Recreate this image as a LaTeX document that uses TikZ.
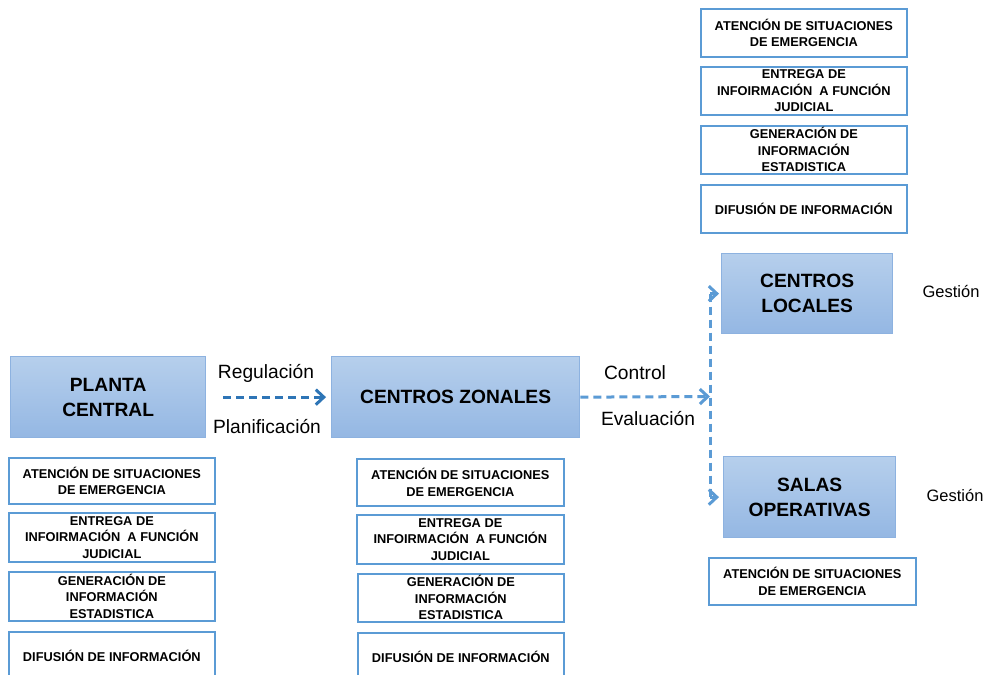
\documentclass[tikz,border=0pt]{standalone}
\usepackage{fontspec}
\setmainfont{Liberation Sans}
\usetikzlibrary{arrows.meta}
\definecolor{bordblue}{HTML}{5B9BD5}
\definecolor{filltop}{HTML}{B6CFEC}
\definecolor{fillbot}{HTML}{94B7E3}
\definecolor{bigbord}{HTML}{8DB2E0}
\definecolor{darkarrow}{HTML}{2E75B6}
\definecolor{lightarrow}{HTML}{5B9BD5}
\tikzset{
  smallbox/.style={draw=bordblue, line width=1.7pt, fill=white, align=center, inner sep=0pt,
    font=\bfseries\fontsize{12.8}{16.5}\selectfont, anchor=north west},
  bigbox/.style={draw=bigbord, line width=1.3pt, top color=filltop, bottom color=fillbot, align=center,
    inner sep=0pt, font=\bfseries\fontsize{19.2}{25}\selectfont, anchor=north west},
  lbl/.style={font=\fontsize{19.2}{21}\selectfont, inner sep=0pt},
  glbl/.style={font=\fontsize{16.5}{18}\selectfont, inner sep=0pt},
  tipa/.style={-{Straight Barb[length=8pt,width=15pt,line width=3pt]}},
  darrow/.style={dashed, dash pattern=on 8pt off 5pt, line width=3pt, tipa},
}
\begin{document}
\begin{tikzpicture}[x=1pt,y=-1pt]
\clip (0,0) rectangle (986,675);
\fill[white] (0,0) rectangle (986,675);

% big boxes
\node[bigbox, minimum width=195pt, minimum height=81pt] (planta) at (10,356) {PLANTA\\CENTRAL};
\node[bigbox, minimum width=248pt, minimum height=81pt] (zonales) at (331,356) {CENTROS ZONALES};
\node[bigbox, minimum width=171pt, minimum height=80pt] (locales) at (721,253) {CENTROS\\LOCALES};
\node[bigbox, minimum width=172pt, minimum height=81pt] (salas) at (723,456) {SALAS\\OPERATIVAS};

% left column
\node[smallbox, minimum width=206pt, minimum height=46pt] (l1) at (8,457) {ATENCIÓN DE SITUACIONES\\DE EMERGENCIA};
\node[smallbox, minimum width=206pt, minimum height=49pt] (l2) at (8,512) {ENTREGA DE\\INFOIRMACIÓN \ A FUNCIÓN\\JUDICIAL};
\node[smallbox, minimum width=206pt, minimum height=49pt] (l3) at (8,571) {GENERACIÓN DE\\INFORMACIÓN\\ESTADISTICA};
\node[smallbox, minimum width=206pt, minimum height=48pt] (l4) at (8,631) {DIFUSIÓN DE INFORMACIÓN};

% middle column
\node[smallbox, minimum width=207pt, minimum height=47pt] (m1) at (356,458) {ATENCIÓN DE SITUACIONES\\DE EMERGENCIA};
\node[smallbox, minimum width=207pt, minimum height=49pt] (m2) at (356,514) {ENTREGA DE\\INFOIRMACIÓN \ A FUNCIÓN\\JUDICIAL};
\node[smallbox, minimum width=206pt, minimum height=48pt] (m3) at (357,573) {GENERACIÓN DE\\INFORMACIÓN\\ESTADISTICA};
\node[smallbox, minimum width=206pt, minimum height=48pt] (m4) at (357,632) {DIFUSIÓN DE INFORMACIÓN};

% top right column
\node[smallbox, minimum width=206pt, minimum height=48pt] (t1) at (700,8) {ATENCIÓN DE SITUACIONES\\DE EMERGENCIA};
\node[smallbox, minimum width=206pt, minimum height=48pt] (t2) at (700,66) {ENTREGA DE\\INFOIRMACIÓN \ A FUNCIÓN\\JUDICIAL};
\node[smallbox, minimum width=206pt, minimum height=48pt] (t3) at (700,125) {GENERACIÓN DE\\INFORMACIÓN\\ESTADISTICA};
\node[smallbox, minimum width=206pt, minimum height=48pt] (t4) at (700,184) {DIFUSIÓN DE INFORMACIÓN};

% bottom right
\node[smallbox, minimum width=207pt, minimum height=47pt] (r1) at (708,557) {ATENCIÓN DE SITUACIONES\\DE EMERGENCIA};

% labels
\node[lbl] (reg) at (266,373) {Regulación};
\node[lbl] (plan) at (267,427) {Planificación};
\node[lbl] (ctrl) at (635,373) {Control};
\node[lbl] (eval) at (648,419) {Evaluación};
\node[glbl] (g1) at (951,292) {Gestión};
\node[glbl] (g2) at (955,495) {Gestión};

% connectors
\draw[darrow, draw=darkarrow, shorten <=17pt, shorten >=5pt] (planta.east) -- (zonales.west);
\coordinate (split) at (710,396.5);
\draw[darrow, draw=lightarrow] (zonales.east) -- (split);
\coordinate (vtop) at (split |- locales.west);
\coordinate (vbot) at (split |- salas.west);
\draw[lightarrow, dashed, dash pattern=on 8pt off 5pt, line width=3pt] (vtop) -- (vbot);
\draw[lightarrow, line width=3pt, tipa, shorten >=2pt] (vtop) -- (locales.west);
\draw[lightarrow, line width=3pt, tipa, shorten >=4pt] (vbot) -- (salas.west);
\end{tikzpicture}
\end{document}
